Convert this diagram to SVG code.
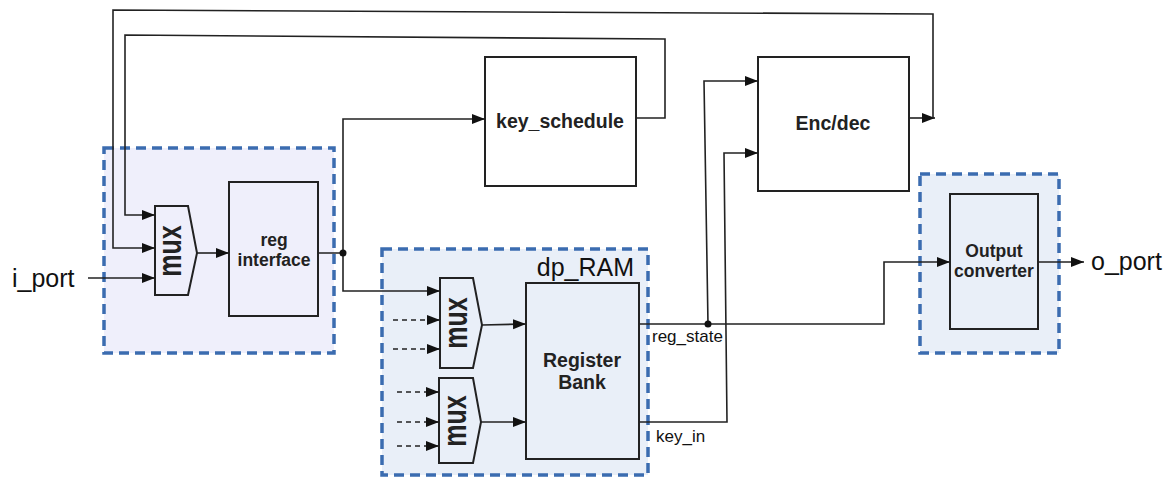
<svg xmlns="http://www.w3.org/2000/svg" width="1172" height="478" viewBox="0 0 1172 478">
<defs>
<marker id="arr" markerUnits="userSpaceOnUse" markerWidth="14" markerHeight="11" refX="13" refY="5" orient="auto"><path d="M0,0 L13,5 L0,10 z" fill="#111"/></marker>
<style>
.grp{stroke:#3b6cb0;stroke-width:3.5;stroke-dasharray:10 6}
.blk{stroke:#222;stroke-width:2}
.ln{fill:none;stroke:#222;stroke-width:1.6}
.dl{fill:none;stroke:#222;stroke-width:1.6;stroke-dasharray:5 4}
.b{font-family:"Liberation Sans",Arial,sans-serif;font-weight:bold;fill:#222}
.n{font-family:"Liberation Sans",Arial,sans-serif;fill:#111}
.mux{font-family:"Liberation Sans",Arial,sans-serif;font-weight:bold;fill:#222;font-size:25px;text-anchor:middle}
</style>
</defs>
<rect width="1172" height="478" fill="#fff"/>

<g id="group_left"><rect class="grp" x="104" y="148" width="230" height="205" fill="#efeffb"/></g>
<g id="group_dp_RAM"><rect class="grp" x="382" y="249" width="266" height="226" fill="#e9eff8"/>
<text class="n" x="634" y="276" font-size="25" text-anchor="end">dp_RAM</text></g>
<g id="group_out"><rect class="grp" x="920" y="174" width="139" height="179" fill="#e9eff8"/></g>

<g id="mux_in"><polygon class="blk" points="155,206 188,206 197,253 188,295 155,295" fill="#efeffb"/>
<text class="mux" transform="translate(172,251) rotate(-90) scale(1,1.35)" x="0" y="6.5">mux</text></g>

<g id="reg_interface"><rect class="blk" x="229" y="182" width="89" height="134" fill="#efeffb"/>
<text class="b" font-size="17.5" text-anchor="middle" x="274" y="246">reg</text>
<text class="b" font-size="17.5" text-anchor="middle" x="274" y="266">interface</text></g>

<g id="key_schedule"><rect class="blk" x="485" y="57" width="151" height="129" fill="#fff"/>
<text class="b" font-size="19.5" text-anchor="middle" x="560" y="128">key_schedule</text></g>

<g id="enc_dec"><rect class="blk" x="758" y="57" width="151" height="134" fill="#fff"/>
<text class="b" font-size="19.5" text-anchor="middle" x="833" y="130">Enc/dec</text></g>

<g id="mux_a"><polygon class="blk" points="440,278 473,278 482,325 473,368 440,368" fill="#e9eff8"/>
<text class="mux" transform="translate(458,323) rotate(-90) scale(1,1.35)" x="0" y="6.5">mux</text></g>

<g id="mux_b"><polygon class="blk" points="439,378 473,378 481,422 473,463 439,463" fill="#e9eff8"/>
<text class="mux" transform="translate(457,421) rotate(-90) scale(1,1.35)" x="0" y="6.5">mux</text></g>

<g id="register_bank"><rect class="blk" x="526" y="283" width="113" height="176" fill="#e9eff8"/>
<text class="b" font-size="19.5" text-anchor="middle" x="582" y="367">Register</text>
<text class="b" font-size="19.5" text-anchor="middle" x="582" y="389">Bank</text></g>

<g id="output_converter"><rect class="blk" x="950" y="194" width="88" height="135" fill="#e9eff8"/>
<text class="b" font-size="17.5" text-anchor="middle" x="994" y="257">Output</text>
<text class="b" font-size="17.5" text-anchor="middle" x="994" y="277">converter</text></g>

<g id="ports">
<text class="n" x="12" y="287" font-size="25">i_port</text>
<text class="n" x="1091" y="270" font-size="25">o_port</text>
<text class="n" x="652" y="342" font-size="17">reg_state</text>
<text class="n" x="656" y="442" font-size="17">key_in</text>
</g>

<g id="connectors">
<path class="ln" d="M88,278 H155" marker-end="url(#arr)"/>
<path class="ln" d="M909,118 H935" marker-end="url(#arr)"/>
<path class="ln" d="M933,118 V14 L113,10 V248 H155" marker-end="url(#arr)"/>
<path class="ln" d="M636,118 H665 V39 L125,35 V215 H155" marker-end="url(#arr)"/>
<path class="ln" d="M197,253 H229" marker-end="url(#arr)"/>
<path class="ln" d="M318,253 H343 V119 H485" marker-end="url(#arr)"/>
<path class="ln" d="M343,253 V291 H440" marker-end="url(#arr)"/>
<circle cx="343" cy="253" r="3.5" fill="#111"/>
<path class="dl" d="M393,320 H428"/><path class="ln" d="M428,320 H440" marker-end="url(#arr)"/>
<path class="dl" d="M393,349 H428"/><path class="ln" d="M428,349 H440" marker-end="url(#arr)"/>
<path class="dl" d="M397,392 H427"/><path class="ln" d="M427,392 H439" marker-end="url(#arr)"/>
<path class="dl" d="M397,422 H427"/><path class="ln" d="M427,422 H439" marker-end="url(#arr)"/>
<path class="dl" d="M397,446 H427"/><path class="ln" d="M427,446 H439" marker-end="url(#arr)"/>
<path class="ln" d="M482,325 L526,324" marker-end="url(#arr)"/>
<path class="ln" d="M481,422 H526" marker-end="url(#arr)"/>
<path class="ln" d="M639,324 H884 V262 H950" marker-end="url(#arr)"/>
<path class="ln" d="M708,324 L704,81 H758" marker-end="url(#arr)"/>
<circle cx="708" cy="324" r="3.5" fill="#111"/>
<path class="ln" d="M639,422 H727 L724,153 H758" marker-end="url(#arr)"/>
<path class="ln" d="M1038,262 H1084" marker-end="url(#arr)"/>
</g>
</svg>
